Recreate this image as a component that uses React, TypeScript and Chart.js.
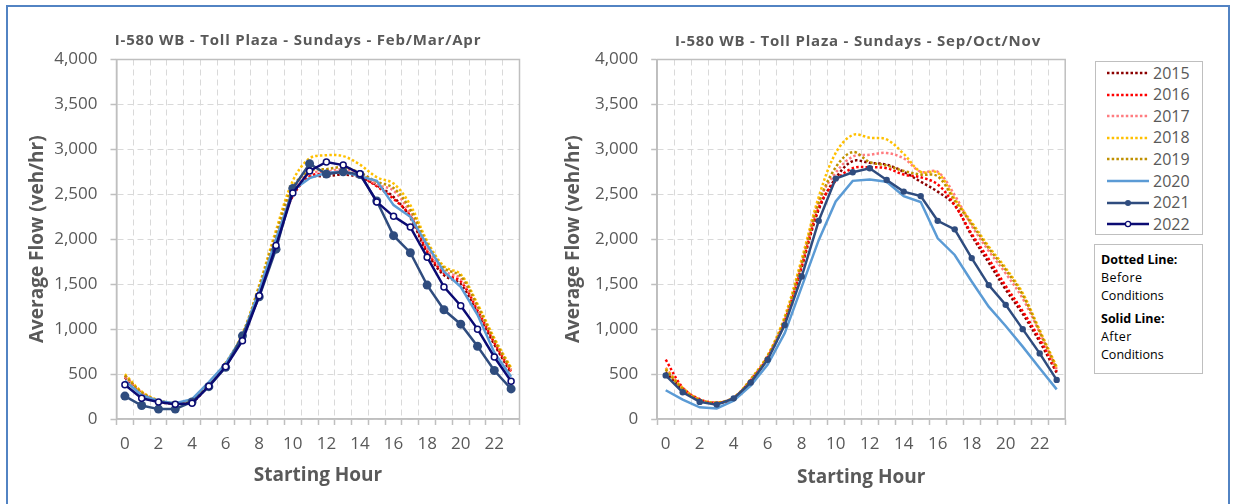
import React, { useEffect, useRef } from 'react';
import { Chart, registerables } from 'chart.js';

Chart.register(...registerables);

// ---------------- DATA ----------------
const HOURS = ['0', '1', '2', '3', '4', '5', '6', '7', '8', '9', '10', '11', '12', '13', '14', '15', '16', '17', '18', '19', '20', '21', '22', '23'];
const YEARS = ['2015', '2016', '2017', '2018', '2019', '2020', '2021', '2022'];

const TITLE_LEFT = 'I-580 WB - Toll Plaza - Sundays - Feb/Mar/Apr';
const TITLE_RIGHT = 'I-580 WB - Toll Plaza - Sundays - Sep/Oct/Nov';
const X_TITLE = 'Starting Hour';
const Y_TITLE = 'Average Flow (veh/hr)';
const NOTE_DOTTED = ['Dotted Line:', 'Before', 'Conditions'];
const NOTE_SOLID = ['Solid Line:', 'After', 'Conditions'];

// Feb/Mar/Apr
const FMA_2015 = [460, 285, 195, 170, 190, 380, 600, 910, 1420, 1990, 2490, 2690, 2700, 2720, 2690, 2600, 2470, 2240, 1850, 1600, 1500, 1180, 830, 510];
const FMA_2016 = [480, 295, 200, 175, 195, 385, 605, 920, 1430, 2000, 2480, 2700, 2730, 2750, 2700, 2590, 2450, 2260, 1870, 1620, 1530, 1210, 850, 530];
const FMA_2017 = [470, 290, 200, 175, 195, 390, 610, 930, 1450, 2040, 2540, 2730, 2750, 2780, 2730, 2610, 2540, 2290, 1900, 1650, 1560, 1230, 870, 540];
const FMA_2018 = [500, 305, 210, 180, 205, 400, 625, 950, 1490, 2100, 2650, 2900, 2935, 2925, 2830, 2690, 2620, 2380, 1980, 1700, 1610, 1280, 900, 570];
const FMA_2019 = [485, 295, 205, 178, 200, 392, 615, 940, 1470, 2060, 2580, 2760, 2780, 2800, 2740, 2640, 2570, 2330, 1950, 1680, 1590, 1260, 880, 555];
const FMA_2020 = [425, 265, 200, 175, 220, 410, 615, 915, 1430, 2000, 2545, 2680, 2740, 2750, 2700, 2650, 2380, 2250, 1935, 1640, 1470, 1160, 740, 470];
const FMA_2021 = [255, 150, 110, 110, 190, 360, 575, 925, 1360, 1890, 2565, 2840, 2725, 2750, 2720, 2425, 2040, 1850, 1490, 1215, 1055, 810, 540, 335];
const FMA_2022 = [380, 230, 190, 165, 175, 365, 580, 870, 1370, 1930, 2515, 2760, 2860, 2825, 2730, 2415, 2255, 2135, 1800, 1470, 1260, 1000, 690, 420];

// Sep/Oct/Nov
const SON_2015 = [520, 330, 210, 178, 225, 420, 680, 1080, 1690, 2330, 2680, 2870, 2850, 2830, 2750, 2640, 2530, 2380, 2040, 1740, 1440, 1170, 860, 515];
const SON_2016 = [660, 350, 220, 180, 235, 430, 690, 1090, 1700, 2350, 2650, 2790, 2800, 2790, 2720, 2690, 2610, 2380, 2060, 1780, 1480, 1200, 890, 530];
const SON_2017 = [570, 345, 215, 182, 240, 440, 700, 1110, 1740, 2420, 2740, 2920, 2940, 2960, 2900, 2750, 2750, 2490, 2150, 1870, 1620, 1340, 960, 550];
const SON_2018 = [560, 345, 215, 185, 240, 445, 710, 1140, 1780, 2470, 2960, 3160, 3130, 3110, 2950, 2750, 2740, 2450, 2190, 1920, 1680, 1400, 990, 580];
const SON_2019 = [550, 335, 210, 180, 235, 435, 700, 1110, 1730, 2400, 2800, 2970, 2860, 2820, 2760, 2720, 2700, 2430, 2170, 1900, 1660, 1380, 970, 565];
const SON_2020 = [320, 215, 130, 118, 205, 370, 605, 955, 1470, 1990, 2420, 2650, 2665, 2640, 2480, 2415, 2010, 1825, 1530, 1250, 1035, 805, 565, 330];
const SON_2021 = [485, 297, 190, 160, 230, 405, 660, 1045, 1585, 2205, 2675, 2745, 2790, 2660, 2530, 2480, 2205, 2110, 1790, 1490, 1270, 1000, 730, 435];

// ---------------- STYLE ----------------
const COLORS: Record<string, string> = {
  '2015': '#8B0000',
  '2016': '#FF0000',
  '2017': '#FF7C80',
  '2018': '#FFC000',
  '2019': '#BF9000',
  '2020': '#5B9BD5',
  '2021': '#2F4C7E',
  '2022': '#0B0B73',
};
const DOTTED_YEARS = ['2015', '2016', '2017', '2018', '2019'];
const TEXT_GRAY = '#595959';
const FONT = '"Open Sans", "Noto Sans", sans-serif';

function buildDatasets(series: Record<string, number[]>, big: boolean) {
  return Object.keys(series).map((year) => {
    const idx = YEARS.indexOf(year);
    const color = COLORS[year];
    const base: any = {
      label: year,
      data: series[year],
      borderColor: color,
      backgroundColor: color,
      order: YEARS.length - idx,
      fill: false,
    };
    if (DOTTED_YEARS.includes(year)) {
      return { ...base, borderWidth: 2.5, borderDash: [2.5, 2.2], tension: 0.35, pointRadius: 0, pointHoverRadius: 0 };
    }
    if (year === '2020') {
      return { ...base, borderWidth: 2.5, tension: 0, pointRadius: 0, pointHoverRadius: 0 };
    }
    if (year === '2021') {
      return { ...base, borderWidth: 2.5, tension: 0, pointRadius: big ? 4.5 : 3.2, pointBorderWidth: 0, pointBackgroundColor: color };
    }
    return { ...base, borderWidth: 2.5, tension: 0, pointRadius: 3, pointBorderWidth: 1.5, pointBackgroundColor: '#FFFFFF', pointBorderColor: color };
  });
}

type Geo = {
  padLeft: number; padRight: number; padTop: number; padBottom: number;
  yWidth: number; xHeight: number; yTitlePad: number; xTitlePad: number;
  titleX: number; titleY: number;
};

const framePlugin = {
  id: 'frame',
  beforeDatasetsDraw(chart: any) {
    const { ctx, chartArea } = chart;
    ctx.save();
    ctx.strokeStyle = '#BFBFBF';
    ctx.lineWidth = 1.5;
    ctx.setLineDash([]);
    ctx.strokeRect(chartArea.left, chartArea.top, chartArea.right - chartArea.left, chartArea.bottom - chartArea.top);
    ctx.restore();
  },
};

function titlePlugin(text: string, x: number, y: number) {
  return {
    id: 'fixedTitle',
    afterDraw(chart: any) {
      const ctx = chart.ctx;
      ctx.save();
      ctx.font = `bold 15px ${FONT}`;
      try { (ctx as any).letterSpacing = '0.8px'; } catch (e) { /* ignore */ }
      ctx.fillStyle = TEXT_GRAY;
      ctx.textAlign = 'center';
      ctx.textBaseline = 'middle';
      ctx.fillText(text, x, y);
      ctx.restore();
    },
  };
}

function makeConfig(series: Record<string, number[]>, big: boolean, g: Geo, title: string): any {
  return {
    type: 'line',
    data: { labels: HOURS, datasets: buildDatasets(series, big) },
    options: {
      responsive: false,
      animation: false,
      devicePixelRatio: 1,
      events: [],
      layout: { padding: { left: g.padLeft, right: g.padRight, top: g.padTop, bottom: g.padBottom } },
      plugins: { legend: { display: false }, tooltip: { enabled: false }, title: { display: false } },
      scales: {
        x: {
          type: 'category',
          offset: true,
          grid: {
            display: true,
            offset: true,
            color: '#D9D9D9',
            lineWidth: 1,
            drawTicks: true,
            tickLength: 6,
            tickColor: '#BFBFBF',
            tickWidth: 1.5,
            tickBorderDash: [],
          },
          border: { display: true, color: '#BFBFBF', width: 1.5, dash: [6, 4] },
          ticks: {
            autoSkip: false,
            maxRotation: 0,
            minRotation: 0,
            padding: 9,
            color: TEXT_GRAY,
            font: { family: FONT, size: 17 },
            callback: function (this: any, val: any, idx: number) {
              return idx % 2 === 0 ? HOURS[idx] : '';
            },
          },
          title: {
            display: true,
            text: X_TITLE,
            color: TEXT_GRAY,
            font: { family: FONT, size: 19, weight: 'bold' },
            padding: { top: 0, bottom: g.xTitlePad },
          },
          afterFit: (s: any) => { s.height = g.xHeight; },
        },
        y: {
          min: 0,
          max: 4000,
          grid: {
            display: true,
            color: '#D9D9D9',
            lineWidth: 1,
            drawTicks: true,
            tickLength: 6,
            tickColor: '#BFBFBF',
            tickWidth: 1.5,
            tickBorderDash: [],
          },
          border: { display: true, color: '#BFBFBF', width: 1.5, dash: [6, 4] },
          ticks: {
            stepSize: 500,
            padding: 13,
            color: TEXT_GRAY,
            font: { family: FONT, size: 17 },
            callback: (v: any) => Number(v).toLocaleString('en-US'),
          },
          title: {
            display: true,
            text: Y_TITLE,
            color: TEXT_GRAY,
            font: { family: FONT, size: 19, weight: 'bold' },
            padding: { top: g.yTitlePad, bottom: 0 },
          },
          afterFit: (s: any) => { s.width = g.yWidth; },
        },
      },
    },
    plugins: [framePlugin, titlePlugin(title, g.titleX, g.titleY)],
  };
}

// canvas geometry (left canvas at x=0, right canvas at x=545; each 540x504)
const GEO_LEFT: Geo = {
  padLeft: 10, padRight: 20.5, padTop: 59.5, padBottom: 5,
  yWidth: 106.5, xHeight: 80, yTitlePad: 16, xTitlePad: 12,
  titleX: 298, titleY: 41,
};
const GEO_RIGHT: Geo = {
  padLeft: 10, padRight: 19.8, padTop: 59.5, padBottom: 5,
  yWidth: 102.2, xHeight: 80, yTitlePad: 7.6, xTitlePad: 10,
  titleX: 858 - 545, titleY: 42,
};

function LineChart({ series, big, geo, title, left }: { series: Record<string, number[]>; big: boolean; geo: Geo; title: string; left: number }) {
  const ref = useRef<HTMLCanvasElement | null>(null);
  useEffect(() => {
    if (!ref.current) return;
    const chart = new Chart(ref.current, makeConfig(series, big, geo, title));
    return () => chart.destroy();
  }, []);
  return (
    <canvas
      ref={ref}
      width={540}
      height={504}
      style={{ position: 'absolute', left, top: 0, width: 540, height: 504 }}
    />
  );
}

function LegendSample({ year }: { year: string }) {
  const color = COLORS[year];
  const dotted = DOTTED_YEARS.includes(year);
  return (
    <svg width={42} height={10} style={{ display: 'block' }}>
      <line
        x1={0}
        y1={5}
        x2={42}
        y2={5}
        stroke={color}
        strokeWidth={2.5}
        strokeDasharray={dotted ? '2.5 2.2' : undefined}
      />
      {year === '2021' && <circle cx={21} cy={5} r={3} fill={color} />}
      {year === '2022' && <circle cx={21} cy={5} r={2.6} fill="#FFFFFF" stroke={color} strokeWidth={1.3} />}
    </svg>
  );
}

export default function App() {
  const left = { '2015': FMA_2015, '2016': FMA_2016, '2017': FMA_2017, '2018': FMA_2018, '2019': FMA_2019, '2020': FMA_2020, '2021': FMA_2021, '2022': FMA_2022 };
  const right = { '2015': SON_2015, '2016': SON_2016, '2017': SON_2017, '2018': SON_2018, '2019': SON_2019, '2020': SON_2020, '2021': SON_2021 };
  return (
    <div style={{ position: 'fixed', left: 0, top: 0, width: 1233, height: 504, background: '#FFFFFF', overflow: 'hidden', fontFamily: FONT }}>
      <div style={{ position: 'absolute', left: 6, top: 5, width: 1220, height: 520, borderLeft: '2px solid #5283C3', borderTop: '2px solid #5283C3', borderRight: '2px solid #5283C3' }} />
      <LineChart series={left} big={true} geo={GEO_LEFT} title={TITLE_LEFT} left={0} />
      <LineChart series={right} big={false} geo={GEO_RIGHT} title={TITLE_RIGHT} left={545} />
      <div style={{ position: 'absolute', left: 1095, top: 61, width: 106, height: 172, border: '1px solid #BFBFBF', background: '#FFFFFF' }}>
        {YEARS.map((y, i) => (
          <div key={y} style={{ position: 'absolute', left: 11, top: 0.5 + i * 21.6, height: 21, display: 'flex', alignItems: 'center' }}>
            <LegendSample year={y} />
            <span style={{ marginLeft: 4, fontSize: 16, color: TEXT_GRAY, lineHeight: '21px' }}>{y}</span>
          </div>
        ))}
      </div>
      <div style={{ position: 'absolute', left: 1094, top: 244, width: 107, height: 128, border: '1px solid #BFBFBF', background: '#FFFFFF', fontSize: 12.5, color: '#000000' }}>
        <div style={{ position: 'absolute', left: 6, top: 6, lineHeight: '18px' }}>
          <div style={{ fontWeight: 'bold' }}>{NOTE_DOTTED[0]}</div>
          <div style={{ letterSpacing: 0.4 }}>{NOTE_DOTTED[1]}</div>
          <div>{NOTE_DOTTED[2]}</div>
          <div style={{ fontWeight: 'bold', marginTop: 5 }}>{NOTE_SOLID[0]}</div>
          <div style={{ letterSpacing: 0.4 }}>{NOTE_SOLID[1]}</div>
          <div>{NOTE_SOLID[2]}</div>
        </div>
      </div>
    </div>
  );
}
